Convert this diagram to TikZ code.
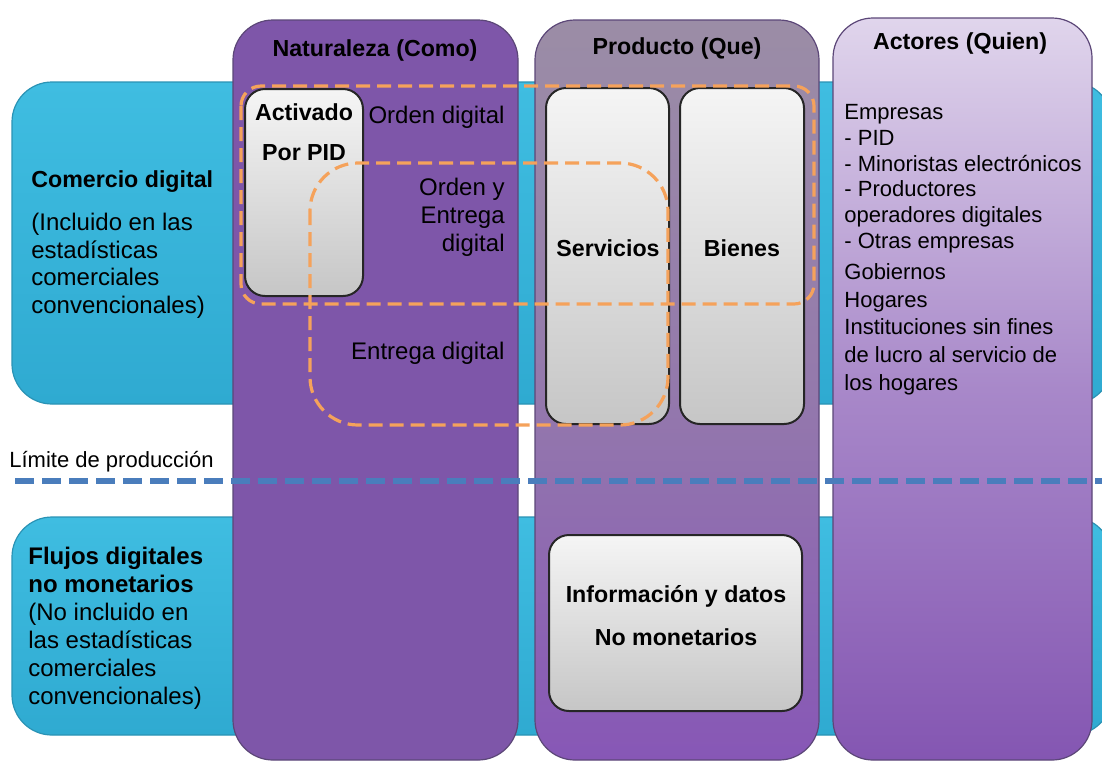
\documentclass[tikz,border=0pt]{standalone}
\usepackage{fontspec}
\setmainfont{Liberation Sans}
\usetikzlibrary{backgrounds,fit,positioning,shapes}

\definecolor{cyantop}{HTML}{3FBDE1}
\definecolor{cyanbot}{HTML}{2FAAD1}
\definecolor{cyanedge}{HTML}{2A93B5}
\definecolor{natfill}{HTML}{7E56A9}
\definecolor{prodtop}{HTML}{9B8DA6}
\definecolor{prodmid}{HTML}{9479AC}
\definecolor{prodbot}{HTML}{8757B6}
\definecolor{acttop}{HTML}{E0D5EC}
\definecolor{actmid}{HTML}{A888C9}
\definecolor{actbot}{HTML}{8456B2}
\definecolor{coledge}{HTML}{5C4778}
\definecolor{boxtop}{HTML}{F5F5F5}
\definecolor{boxbot}{HTML}{C6C6C6}
\definecolor{zoneorange}{HTML}{F5A25B}
\definecolor{limblue}{HTML}{4A7DBC}

\begin{document}
\begin{tikzpicture}[x=0.5pt,y=-0.5pt,
    band/.style={top color=cyantop, bottom color=cyanbot, draw=cyanedge, line width=0.6pt, rounded corners=20pt},
    column/.style={draw=coledge, line width=0.6pt, rounded corners=20pt, inner sep=0pt},
    graybox/.style={draw=black!85, line width=1pt, top color=boxtop, bottom color=boxbot, rounded corners=10pt, inner sep=0pt},
    zone/.style={draw=zoneorange, line width=1.6pt, dash pattern=on 7pt off 3.5pt},
    limline/.style={draw=limblue, line width=3pt, dash pattern=on 9.5pt off 4pt},
    head/.style={font=\fontsize{11.6}{14}\selectfont\bfseries, inner sep=0pt},
    txt/.style={font=\fontsize{12}{13.75}\selectfont, inner sep=0pt}]
            \useasboundingbox (0,0) rectangle (1102,762);
            \fill[white] (0,0) rectangle (1102,762);

            % bandas
            \begin{scope}
            \clip (0,0) rectangle (1102,762);
            \path[band] (12,82) rectangle (1112,404);
            \path[band] (12,517) rectangle (1112,735);
            \end{scope}

            % columnas
            \node[column, fit={(233,20) (518,760)}, fill=natfill] (nat) {};
            \node[column, fit={(535,20) (819,760)}, top color=prodtop, bottom color=prodbot, middle color=prodmid] (prod) {};
            \node[column, fit={(833,18) (1092,760)}, top color=acttop, bottom color=actbot, middle color=actmid] (act) {};

            % cajas grises
            \node[graybox, fit={(245,89) (363,296)}] (pid) {};
            \node[graybox, fit={(546,88) (669,424)}] (serv) {};
            \node[graybox, fit={(680,88) (804,424)}] (bien) {};
            \node[graybox, fit={(549,535) (802,711)}] (info) {};

            % zonas
            \draw[zone, rounded corners=10pt] (241,86) rectangle (814,304);
            \draw[zone, rounded corners=24pt] (310,163) rectangle (668,425);

            % limite de produccion
            \coordinate (limL) at (15,481);
            \coordinate (limR) at (1102,481);
            \draw[limline] (limL) -- (limR);

            % textos
            \node[head] (tnat) at (375,50) {Naturaleza (Como)};
            \node[head] (tprod) at (677,48) {Producto (Que)};
            \node[head] (tact) at (960,43) {Actores (Quien)};

            \node[head] (activ) at (304,112) {Activado};
            \node[head] (porpid) at (304,153) {Por PID};
            \node[txt, anchor=east] (ordend) at (505,117) {Orden digital};
            \node[txt, anchor=east, align=right, font=\fontsize{12}{14}\selectfont] (ordent) at (505,217) {Orden y\\Entrega\\digital};
            \node[txt, anchor=east] (entd) at (505,353) {Entrega digital};

            \node[head] (servt) at (608,248) {Servicios};
            \node[head] (bient) at (742,248) {Bienes};
            \node[head] (infot) at (676,596) {Información y datos};
            \node[head] (nomon) at (676,637) {No monetarios};

            \node[head, anchor=west] (comt) at (31,182) {Comercio digital};
            \node[txt, anchor=north west, align=left] (comsub) at (31,213) {(Incluido en las\\estadísticas\\comerciales\\convencionales)};
            \node[txt, anchor=north west, align=left, font=\fontsize{12}{14}\selectfont] (flut) at (28,547)
                {\textbf{Flujos digitales}\\\textbf{no monetarios}\\(No incluido en\\las estadísticas\\comerciales\\convencionales)};
            \node[txt, anchor=west, font=\fontsize{11}{13}\selectfont] (limt) at (9,462) {Límite de producción};

            \node[txt, anchor=north west, align=left, font=\fontsize{11}{12.9}\selectfont] (actl) at (844,104)
                {Empresas\\- PID\\- Minoristas electrónicos\\- Productores\\operadores digitales\\- Otras empresas\\[2.5pt]
                 Gobiernos\\[1pt]Hogares\\[1pt]Instituciones sin fines\\[1pt]de lucro al servicio de\\[1pt]los hogares};
\end{tikzpicture}
\end{document}
